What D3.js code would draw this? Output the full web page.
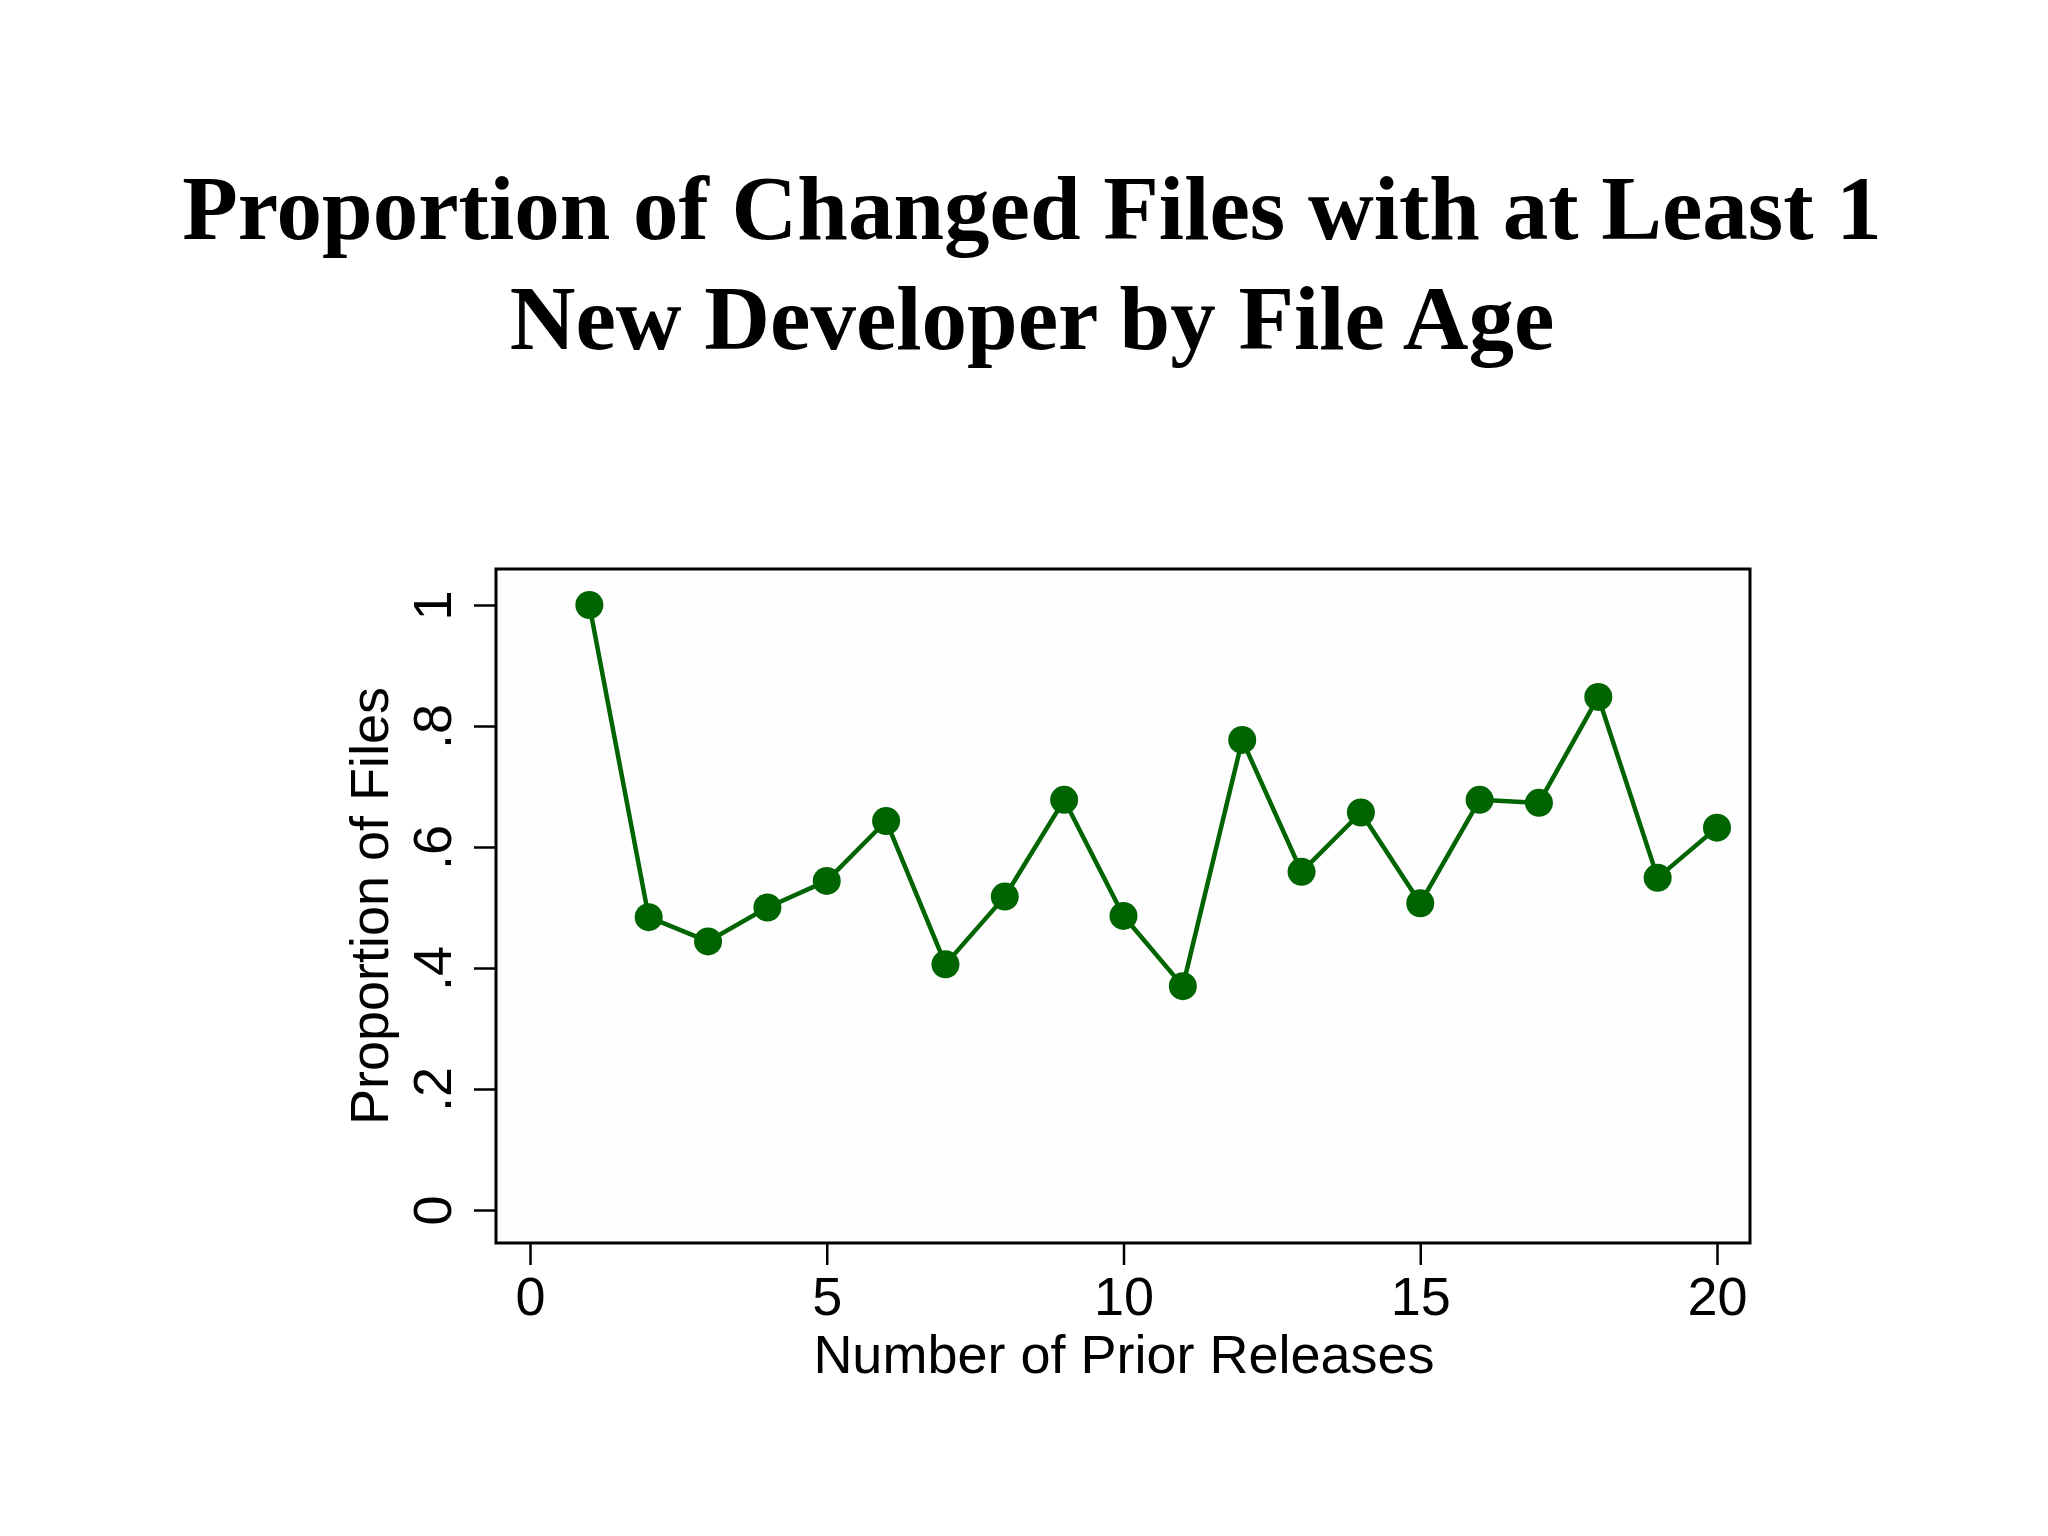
<!DOCTYPE html>
<html>
<head>
<meta charset="utf-8">
<script src="https://cdn.jsdelivr.net/npm/d3@7"></script>
<style>
  html, body { margin: 0; padding: 0; background: #ffffff; }
  svg { display: block; }
</style>
</head>
<body>
<script>
const titleLines = ["Proportion of Changed Files with at Least 1", "New Developer by File Age"];
const xTitle = "Number of Prior Releases";
const yTitle = "Proportion of Files";
const releases = [1,2,3,4,5,6,7,8,9,10,11,12,13,14,15,16,17,18,19,20];
const proportions = [1.0,0.484,0.444,0.500,0.544,0.643,0.406,0.518,0.678,0.486,0.370,0.777,0.559,0.657,0.507,0.678,0.673,0.848,0.549,0.632];
const xTickValues = [0,5,10,15,20];
const yTickValues = [0,0.2,0.4,0.6,0.8,1];
const yTickLabels = ["0",".2",".4",".6",".8","1"];

const W = 2048, H = 1536;
const frame = {left: 496, right: 1750, top: 569, bottom: 1243};
const green = "#006400";

const svg = d3.select("body").append("svg").attr("width", W).attr("height", H);
svg.append("rect").attr("width", W).attr("height", H).attr("fill", "#ffffff");

const x = d3.scaleLinear().domain([0, 20]).range([530, 1717]);
const y = d3.scaleLinear().domain([0, 1]).range([1210, 605]);

// title
svg.append("g").selectAll("text").data(titleLines).join("text")
  .attr("x", 1032).attr("y", (d, i) => 239 + i * 110)
  .attr("text-anchor", "middle")
  .attr("font-family", "'Liberation Serif', 'Times New Roman', serif")
  .attr("font-weight", "bold").attr("font-size", 91).attr("fill", "#000")
  .text(d => d);

// frame
svg.append("rect")
  .attr("x", frame.left).attr("y", frame.top)
  .attr("width", frame.right - frame.left).attr("height", frame.bottom - frame.top)
  .attr("fill", "#fefefe").attr("stroke", "#000").attr("stroke-width", 3);

const font = "'Liberation Sans', Arial, sans-serif";

// x axis
const xAxis = svg.append("g").attr("transform", `translate(0,${frame.bottom})`)
  .call(d3.axisBottom(x).tickValues(xTickValues).tickSize(22).tickPadding(12).tickFormat(d3.format("d")));
xAxis.select(".domain").remove();
xAxis.selectAll("line").attr("stroke", "#000").attr("stroke-width", 2.5);
xAxis.selectAll("text").attr("font-family", font).attr("font-size", 54).attr("fill", "#000")
  .attr("dy", null).attr("y", 72);

// y axis
const yAxis = svg.append("g").attr("transform", `translate(${frame.left},0)`)
  .call(d3.axisLeft(y).tickValues(yTickValues).tickSize(22).tickFormat((d, i) => yTickLabels[i]));
yAxis.select(".domain").remove();
yAxis.selectAll("line").attr("stroke", "#000").attr("stroke-width", 2.5);
yAxis.selectAll("text").attr("font-family", font).attr("font-size", 54).attr("fill", "#000")
  .attr("x", null).attr("dy", null).attr("y", null)
  .attr("text-anchor", "middle")
  .attr("transform", "translate(-45,0) rotate(-90)");

// axis titles
svg.append("text").attr("x", 1124).attr("y", 1373).attr("text-anchor", "middle")
  .attr("font-family", font).attr("font-size", 54).attr("fill", "#000").text(xTitle);
svg.append("text").attr("transform", `translate(388,${(frame.top + frame.bottom) / 2}) rotate(-90)`)
  .attr("text-anchor", "middle")
  .attr("font-family", font).attr("font-size", 54).attr("fill", "#000").text(yTitle);

// line + markers
const pts = releases.map((r, i) => ({r, v: proportions[i]}));
svg.append("path").datum(pts)
  .attr("fill", "none").attr("stroke", green).attr("stroke-width", 4.5)
  .attr("stroke-linejoin", "round")
  .attr("d", d3.line().x(d => x(d.r)).y(d => y(d.v)));
svg.append("g").selectAll("circle").data(pts).join("circle")
  .attr("cx", d => x(d.r)).attr("cy", d => y(d.v)).attr("r", 14)
  .attr("fill", green);
</script>
</body>
</html>
